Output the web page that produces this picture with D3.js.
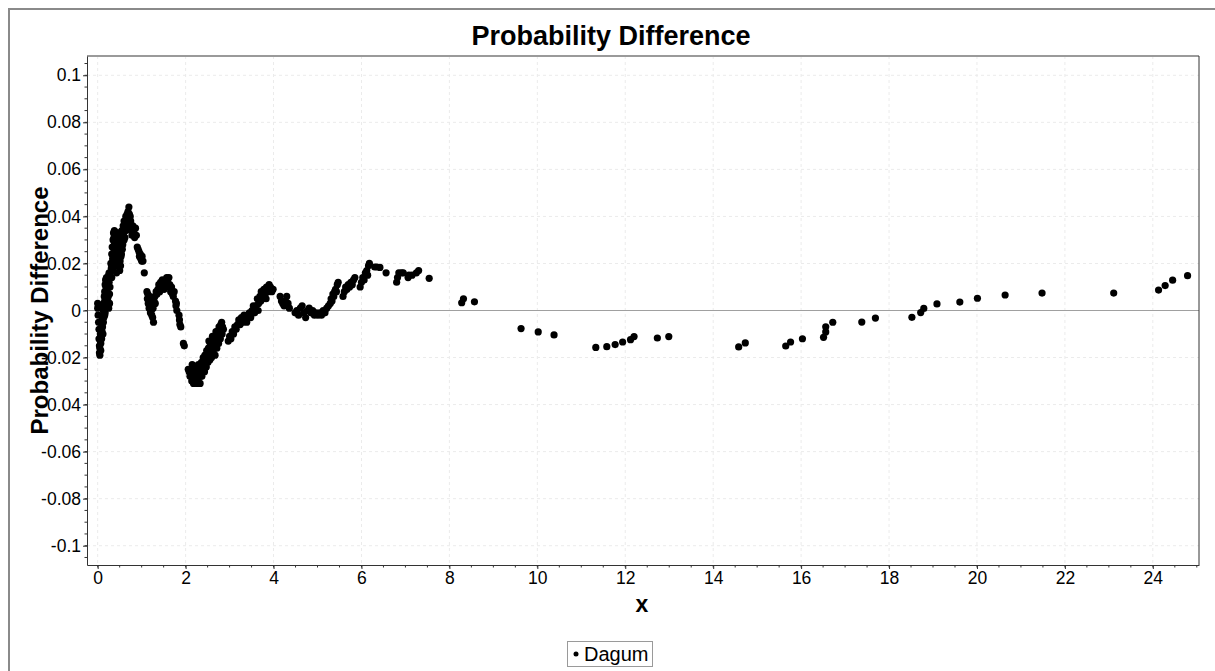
<!DOCTYPE html>
<html>
<head>
<meta charset="utf-8">
<script src="https://cdn.jsdelivr.net/npm/d3@7"></script>
<style>
  body { margin: 0; background: #fff; }
  svg { display: block; font-family: "Liberation Sans", Arial, sans-serif; }
</style>
</head>
<body>
<div id="chart"></div>
<script>
// ticks
var xTicks = [0, 2, 4, 6, 8, 10, 12, 14, 16, 18, 20, 22, 24];
var yTicks = [0.1, 0.08, 0.06, 0.04, 0.02, 0, -0.02, -0.04, -0.06, -0.08, -0.1];
var yTickLabels = ["0.1", "0.08", "0.06", "0.04", "0.02", "0", "-0.02", "-0.04", "-0.06", "-0.08", "-0.1"];

// Dagum points: [x, difference]
var startPts = [
  [0.00,0.003],[0.00,0.001],[0.01,-0.002],[0.02,-0.005],[0.02,0.002],[0.03,-0.008],[0.03,-0.012],[0.04,-0.015],
  [0.04,-0.018],[0.05,-0.019],[0.05,-0.016],[0.06,-0.013],[0.06,-0.010],[0.07,-0.014],[0.07,-0.017],[0.08,-0.011],
  [0.08,-0.008],[0.09,-0.012],[0.09,-0.006],[0.10,-0.009],[0.10,-0.004],[0.11,-0.007],[0.12,-0.002],[0.12,-0.010],
  [0.13,-0.005],[0.13,0.000],[0.14,0.003],[0.14,-0.003],[0.15,0.006],[0.15,0.001],[0.16,0.008],[0.16,0.004],
  [0.17,0.011],[0.17,-0.001],[0.18,0.013],[0.18,0.007],[0.19,0.010],[0.19,0.002],[0.20,0.014],[0.20,0.005],
  [0.21,0.012],[0.22,0.009],[0.22,0.003],[0.23,0.013],[0.24,0.010],[0.24,0.006],[0.25,0.015],[0.25,0.001],
  [0.26,0.012],[0.27,0.007],[0.28,0.010],[0.16,-0.002],[0.20,0.009],[0.23,0.004],[0.26,0.016],[0.28,0.014],
  [0.27,0.003]
];
var peakPts = [
  [0.29,0.016],[0.30,0.020],[0.31,0.018],[0.32,0.024],[0.32,0.014],[0.33,0.027],[0.34,0.022],[0.35,0.030],
  [0.35,0.018],[0.36,0.033],[0.37,0.026],[0.37,0.031],[0.38,0.034],[0.39,0.029],[0.40,0.023],[0.40,0.032],
  [0.41,0.027],[0.42,0.020],[0.43,0.030],[0.43,0.016],[0.44,0.025],[0.45,0.019],[0.46,0.022],[0.47,0.033],
  [0.48,0.029],[0.49,0.025],[0.50,0.031],[0.50,0.017],[0.51,0.021],[0.52,0.027],[0.53,0.023],[0.54,0.030],
  [0.55,0.034],[0.56,0.026],[0.57,0.032],[0.58,0.036],[0.59,0.033],[0.60,0.038],[0.61,0.035],[0.62,0.031],
  [0.63,0.037],[0.64,0.040],[0.65,0.034],[0.66,0.039],[0.67,0.041],[0.68,0.036],[0.69,0.042],[0.70,0.039],
  [0.71,0.044],[0.72,0.041],[0.73,0.037],[0.74,0.035],[0.75,0.038],[0.77,0.034],[0.78,0.032],[0.80,0.036],
  [0.82,0.033],[0.84,0.031],[0.86,0.035],[0.88,0.032],
  [0.33,0.020],[0.36,0.024],[0.38,0.028],[0.41,0.033],[0.44,0.031],[0.46,0.028],[0.52,0.019],[0.54,0.024],
  [0.57,0.028],[0.60,0.030],[0.62,0.035],[0.66,0.036],[0.70,0.036],[0.74,0.040],[0.76,0.036],[0.79,0.034],
  [0.83,0.035],
  [0.90,0.027],[0.92,0.026],[0.94,0.025],[0.95,0.023],[0.97,0.024],[0.98,0.022],[1.00,0.021],[1.01,0.023],
  [1.03,0.021],[1.06,0.016]
];
var humpPts = [
  [1.12,0.008],[1.13,0.005],[1.14,0.007],[1.15,0.003],[1.16,0.004],[1.17,0.001],[1.18,0.006],[1.19,0.002],
  [1.20,-0.001],[1.21,0.003],[1.22,0.000],[1.23,-0.002],[1.24,0.002],[1.25,-0.003],[1.26,0.001],[1.27,-0.005],
  [1.28,0.004],[1.30,0.006],[1.31,0.003],[1.33,0.008],
  [1.35,0.007],[1.37,0.009],[1.39,0.011],[1.41,0.008],[1.43,0.012],[1.45,0.010],[1.47,0.013],[1.49,0.011],
  [1.51,0.009],[1.53,0.012],[1.55,0.010],[1.57,0.014],[1.59,0.013],[1.60,0.011],[1.62,0.014],[1.64,0.011],
  [1.66,0.008],[1.68,0.010],[1.70,0.007],[1.72,0.006],[1.74,0.008],
  [1.77,0.004],[1.78,0.002],[1.79,0.003],[1.80,0.000],[1.85,-0.002],[1.86,-0.004],[1.87,-0.006],[1.89,-0.007],
  [1.95,-0.014],[1.97,-0.015]
];
var troughPts = [
  [2.06,-0.025],[2.08,-0.026],[2.10,-0.028],[2.12,-0.025],[2.14,-0.030],[2.16,-0.027],[2.18,-0.031],[2.20,-0.029],
  [2.22,-0.024],[2.24,-0.026],[2.26,-0.031],[2.28,-0.030],[2.30,-0.027],[2.32,-0.028],[2.34,-0.025],[2.36,-0.022],
  [2.38,-0.024],[2.40,-0.020],
  [2.15,-0.023],[2.20,-0.025],[2.25,-0.028],[2.29,-0.023],[2.33,-0.031],[2.37,-0.028],[2.43,-0.026],[2.47,-0.024],
  [2.51,-0.022],[2.55,-0.021],[2.59,-0.020],[2.63,-0.018],[2.67,-0.019],[2.71,-0.016],[2.75,-0.014],[2.79,-0.012],
  [2.83,-0.010],[2.86,-0.008],[2.53,-0.013],[2.61,-0.011],[2.69,-0.009],
  [2.42,-0.023],[2.44,-0.019],[2.46,-0.021],[2.48,-0.017],[2.50,-0.020],[2.52,-0.016],[2.54,-0.018],[2.56,-0.015],
  [2.58,-0.017],[2.60,-0.014],[2.62,-0.016],[2.64,-0.013],[2.66,-0.015],[2.68,-0.011],[2.70,-0.013],[2.72,-0.009],
  [2.74,-0.011],[2.76,-0.007],[2.78,-0.008],[2.80,-0.006],[2.82,-0.005],[2.84,-0.007],
  [2.97,-0.013],[3.00,-0.011],[3.03,-0.012],[3.06,-0.009],[3.09,-0.010],[3.12,-0.007],[3.15,-0.008],[3.18,-0.006],
  [3.21,-0.004],[3.24,-0.006],[3.27,-0.003],[3.30,-0.005],[3.33,-0.002],[3.36,-0.004],[3.39,-0.005],[3.42,-0.003],
  [3.45,-0.001],[3.48,-0.003],[3.51,0.000],[3.54,0.002],[3.57,-0.001]
];
var risePts = [
  [3.60,0.002],[3.63,0.005],[3.66,0.003],[3.69,0.006],[3.72,0.008],[3.75,0.005],[3.78,0.009],[3.81,0.007],
  [3.84,0.010],[3.87,0.008],[3.90,0.011],[3.93,0.010],[3.96,0.008],[3.99,0.009],
  [3.65,0.000],[3.71,0.004],[3.77,0.006],[3.83,0.005],[3.89,0.009],
  [4.15,0.006],[4.18,0.004],[4.21,0.003],[4.24,0.002],[4.27,0.004],[4.30,0.006],[4.33,0.003],[4.36,0.001],
  [4.49,-0.001],[4.53,0.000],[4.57,-0.002],[4.61,0.001],[4.65,0.002],[4.69,-0.001],[4.73,-0.003],[4.77,0.000],
  [4.81,0.001],[4.85,-0.001],[4.89,0.000],[4.93,-0.002],[4.97,-0.001],[5.01,-0.002],[5.05,-0.001],[5.09,-0.002],
  [5.13,0.000],[5.17,-0.001],[5.21,0.001],[5.25,0.002],
  [5.29,0.003],[5.31,0.005],[5.33,0.004],[5.35,0.007],[5.37,0.006],[5.39,0.008],[5.41,0.009],[5.43,0.008],
  [5.45,0.011],[5.47,0.012],
  [5.58,0.006],[5.61,0.008],[5.64,0.010],[5.67,0.009],[5.70,0.011],[5.73,0.010],[5.76,0.012],[5.79,0.011],
  [5.82,0.013],[5.85,0.014],
  [5.97,0.010],[6.00,0.012],[6.03,0.014],[6.06,0.013],[6.09,0.016],[6.12,0.017],[6.14,0.015],[6.16,0.019],
  [6.18,0.020],[6.30,0.0185],[6.35,0.0185],[6.42,0.0183],[6.56,0.016],
  [6.80,0.012],[6.82,0.014],[6.85,0.016],[6.91,0.016],[6.95,0.016],[7.06,0.014],[7.08,0.015],[7.15,0.015],
  [7.25,0.016],[7.30,0.017],[7.54,0.0137]
];
var tailPts = [
  [8.28,0.0033],[8.32,0.0050],[8.57,0.0037],[9.63,-0.0077],[10.02,-0.0091],[10.38,-0.0104],
  [11.33,-0.0157],[11.58,-0.0154],[11.77,-0.0145],[11.94,-0.0134],[12.12,-0.0124],[12.20,-0.0111],
  [12.73,-0.0117],[12.99,-0.0111],[14.58,-0.0155],[14.73,-0.0138],[15.65,-0.0151],[15.76,-0.0134],
  [16.03,-0.0120],[16.51,-0.0114],[16.56,-0.0091],[16.56,-0.0069],[16.72,-0.0050],[17.38,-0.0049],
  [17.69,-0.0032],[18.52,-0.0029],[18.72,-0.0009],[18.79,0.0009],[19.09,0.0028],[19.61,0.0036],
  [20.01,0.0052],[20.64,0.0066],[21.48,0.0074],[23.11,0.0074],[24.13,0.0087],[24.28,0.0106],
  [24.45,0.0129],[24.79,0.0148]
];

var points = [].concat(startPts, peakPts, humpPts, troughPts, risePts, tailPts);

var width = 1215;
var height = 671;
var plot = { left: 87, right: 1199, top: 56, bottom: 565 };

var svg = d3.select("#chart").append("svg")
  .attr("width", width)
  .attr("height", height);

var xScale = d3.scaleLinear().domain([-0.243, 25.05]).range([plot.left, plot.right]);
var yScale = d3.scaleLinear().domain([-0.1082, 0.1082]).range([plot.bottom, plot.top]);

/* outer frame */
svg.append("path")
  .attr("d", "M9,671 V9 H1215")
  .attr("fill", "none")
  .attr("stroke", "#8a8a8a")
  .attr("stroke-width", 2);

/* title */
svg.append("text")
  .attr("x", 611)
  .attr("y", 45)
  .attr("text-anchor", "middle")
  .style("font-size", "27px")
  .style("font-weight", "bold")
  .text("Probability Difference");

/* grid */
var grid = svg.append("g").attr("class", "grid");
grid.selectAll(".gx").data(xTicks).enter().append("line")
  .attr("x1", d => xScale(d)).attr("x2", d => xScale(d))
  .attr("y1", plot.top).attr("y2", plot.bottom)
  .attr("stroke", "#ebebeb").attr("stroke-dasharray", "3,3");
grid.selectAll(".gy").data(yTicks).enter().append("line")
  .attr("x1", plot.left).attr("x2", plot.right)
  .attr("y1", d => yScale(d)).attr("y2", d => yScale(d))
  .attr("stroke", "#ebebeb").attr("stroke-dasharray", "3,3");

/* zero line */
svg.append("line")
  .attr("x1", plot.left).attr("x2", plot.right)
  .attr("y1", yScale(0)).attr("y2", yScale(0))
  .attr("stroke", "#a0a0a0").attr("stroke-width", 1.2);

/* plot border: top gray, right dark */
svg.append("line")
  .attr("x1", plot.left).attr("x2", plot.right)
  .attr("y1", plot.top).attr("y2", plot.top)
  .attr("stroke", "#9a9a9a").attr("stroke-width", 2);
svg.append("line")
  .attr("x1", plot.right).attr("x2", plot.right)
  .attr("y1", plot.top).attr("y2", plot.bottom)
  .attr("stroke", "#333").attr("stroke-width", 1);

/* axes */
var xMinor = d3.range(0, 25.01, 0.5);
var yMinor = d3.range(-0.105, 0.1051, 0.005);

var xAxis = d3.axisBottom(xScale).tickValues(xTicks).tickSize(4).tickSizeOuter(0).tickPadding(3);
var yAxis = d3.axisLeft(yScale).tickValues(yTicks)
  .tickFormat((d, i) => yTickLabels[i]).tickSize(4).tickSizeOuter(0).tickPadding(2);

var gx = svg.append("g")
  .attr("transform", `translate(0, ${plot.bottom})`)
  .call(xAxis);
var gy = svg.append("g")
  .attr("transform", `translate(${plot.left}, 0)`)
  .call(yAxis);

[gx, gy].forEach(function (g) {
  g.select(".domain").attr("stroke", "#333");
  g.selectAll(".tick line").attr("stroke", "#333");
  g.selectAll(".tick text")
    .attr("fill", "#000")
    .style("font-family", "'Liberation Sans', Arial, sans-serif")
    .style("font-size", "17.5px");
});

gx.selectAll(".minor").data(xMinor).enter().append("line")
  .attr("x1", d => xScale(d)).attr("x2", d => xScale(d))
  .attr("y1", 0).attr("y2", 2.5)
  .attr("stroke", "#333");
gy.selectAll(".minor").data(yMinor).enter().append("line")
  .attr("y1", d => yScale(d)).attr("y2", d => yScale(d))
  .attr("x1", 0).attr("x2", -2.5)
  .attr("stroke", "#333");

/* axis titles */
svg.append("text")
  .attr("x", 642)
  .attr("y", 612)
  .attr("text-anchor", "middle")
  .style("font-size", "23px")
  .style("font-weight", "bold")
  .text("x");

svg.append("text")
  .attr("transform", `translate(48, ${(plot.top + plot.bottom) / 2}) rotate(-90)`)
  .attr("text-anchor", "middle")
  .style("font-size", "24px")
  .style("font-weight", "bold")
  .text("Probability Difference");

/* points */
svg.append("g").attr("class", "dots")
  .selectAll("circle")
  .data(points)
  .enter()
  .append("circle")
  .attr("cx", d => xScale(d[0]))
  .attr("cy", d => yScale(d[1]))
  .attr("r", 3.6)
  .attr("fill", "#000");

/* legend */
var legend = svg.append("g").attr("transform", "translate(567, 641)");
legend.append("rect")
  .attr("x", 0.5).attr("y", 0.5)
  .attr("width", 85).attr("height", 25)
  .attr("fill", "#fff")
  .attr("stroke", "#9a9a9a");
legend.append("circle")
  .attr("cx", 9).attr("cy", 13).attr("r", 2.5).attr("fill", "#000");
legend.append("text")
  .attr("x", 17).attr("y", 20)
  .style("font-size", "20px")
  .text("Dagum");
</script>
</body>
</html>
